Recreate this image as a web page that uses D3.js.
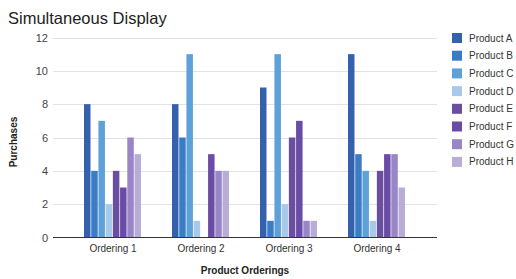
<!DOCTYPE html>
<html>
<head>
<meta charset="utf-8">
<script src="https://cdn.jsdelivr.net/npm/d3@7"></script>
<style>
  body { margin: 0; background: #fff; }
  text { font-family: "Liberation Sans", Arial, sans-serif; }
</style>
</head>
<body>
<script>
var width = 516;
var height = 279;

// data
var orderings = ["Ordering 1", "Ordering 2", "Ordering 3", "Ordering 4"];
var products = ["Product A", "Product B", "Product C", "Product D", "Product E", "Product F", "Product G", "Product H"];
var productA = [8, 8, 9, 11];
var productB = [4, 6, 1, 5];
var productC = [7, 11, 11, 4];
var productD = [2, 1, 2, 1];
var productE = [4, 0, 6, 4];
var productF = [3, 5, 7, 5];
var productG = [6, 4, 1, 5];
var productH = [5, 4, 1, 3];
var yTicks = [0, 2, 4, 6, 8, 10, 12];

var series = [productA, productB, productC, productD, productE, productF, productG, productH];
var colors = ["#3461ae", "#3c7cc4", "#5ea1d8", "#a9c9ea", "#6a4ea0", "#6a4ba6", "#9a85c6", "#b9acd6"];

var svg = d3.select("body").append("svg")
    .attr("width", width)
    .attr("height", height);

// title
svg.append("text")
    .attr("x", 8)
    .attr("y", 24)
    .attr("font-size", 16.5)
    .attr("fill", "#222")
    .text("Simultaneous Display");

var plotLeft = 53, plotRight = 437;

var y = d3.scaleLinear().domain([0, 12]).range([237.5, 37.5]);

// group centres + bars inside each group
var x0 = d3.scalePoint().domain(orderings).range([112.5, 376.5]);
var groupW = 57;
var x1 = d3.scaleBand().domain(products).range([-groupW / 2, groupW / 2]).paddingInner(0.1);

// gridlines
svg.append("g")
    .selectAll("line")
    .data(yTicks.filter(function (d) { return d > 0; }))
    .enter().append("line")
    .attr("x1", plotLeft).attr("x2", plotRight)
    .attr("y1", function (d) { return Math.round(y(d)) + 0.5; })
    .attr("y2", function (d) { return Math.round(y(d)) + 0.5; })
    .attr("stroke", "#e2e2e2");

// y tick labels
var yAxis = svg.append("g")
    .attr("transform", "translate(" + plotLeft + ",0)")
    .call(d3.axisLeft(y).tickValues(yTicks).tickSize(0).tickPadding(5));
yAxis.select(".domain").remove();
yAxis.selectAll("text")
    .attr("font-size", 11)
    .attr("fill", "#444")
    .style("font-family", "'Liberation Sans', Arial, sans-serif");

// bars
var groups = svg.append("g").selectAll("g")
    .data(orderings)
    .enter().append("g")
    .attr("transform", function (d) { return "translate(" + x0(d) + ",0)"; });

groups.selectAll("rect")
    .data(function (d, i) {
        return products.map(function (p, j) { return { p: p, v: series[j][i], c: colors[j] }; });
    })
    .enter().append("rect")
    .attr("x", function (d) { return x1(d.p); })
    .attr("width", x1.bandwidth())
    .attr("y", function (d) { return y(d.v); })
    .attr("height", function (d) { return y(0) - y(d.v); })
    .attr("fill", function (d) { return d.c; });

// baseline
svg.append("line")
    .attr("x1", plotLeft).attr("x2", plotRight)
    .attr("y1", y(0)).attr("y2", y(0))
    .attr("stroke", "#333")
    .attr("stroke-width", 1.2);

// x axis labels
var xAxis = svg.append("g")
    .attr("transform", "translate(0," + y(0) + ")")
    .call(d3.axisBottom(x0).tickSize(0).tickPadding(7));
xAxis.select(".domain").remove();
xAxis.selectAll("text")
    .attr("font-size", 10)
    .attr("fill", "#333")
    .style("font-family", "'Liberation Sans', Arial, sans-serif");

// axis titles
svg.append("text")
    .attr("x", 245)
    .attr("y", 274)
    .attr("text-anchor", "middle")
    .attr("font-size", 10)
    .attr("font-weight", "bold")
    .attr("fill", "#222")
    .text("Product Orderings");

svg.append("text")
    .attr("transform", "translate(17,142) rotate(-90)")
    .attr("text-anchor", "middle")
    .attr("font-size", 10)
    .attr("font-weight", "bold")
    .attr("fill", "#222")
    .text("Purchases");

// legend
var legend = svg.append("g").selectAll("g")
    .data(products)
    .enter().append("g")
    .attr("transform", function (d, i) { return "translate(452," + (38 + i * 17.7) + ")"; });

legend.append("rect")
    .attr("x", 0).attr("y", -5)
    .attr("width", 10).attr("height", 10)
    .attr("fill", function (d, i) { return colors[i]; });

legend.append("text")
    .attr("x", 17)
    .attr("y", 3.5)
    .attr("font-size", 10)
    .attr("fill", "#333")
    .text(function (d) { return d; });
</script>
</body>
</html>
